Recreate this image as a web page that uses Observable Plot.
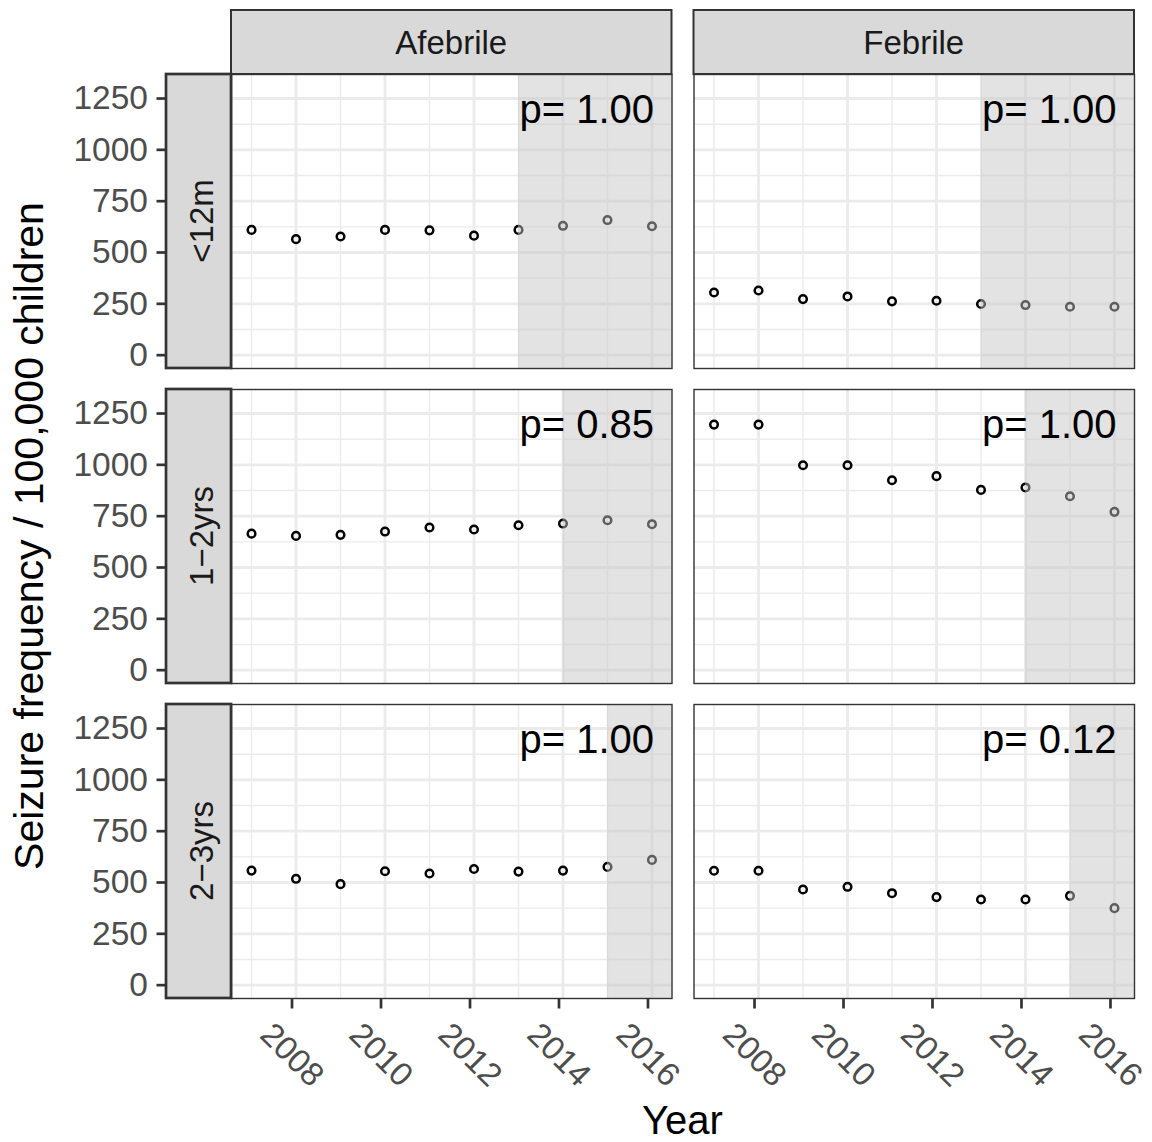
<!DOCTYPE html>
<html>
<head>
<meta charset="utf-8">
<script src="https://cdn.jsdelivr.net/npm/d3@7"></script>
<script src="https://cdn.jsdelivr.net/npm/@observablehq/plot@0.6"></script>
<style>
  html, body { margin: 0; padding: 0; background: #ffffff; }
  #chart { width: 1152px; height: 1142px; }
</style>
</head>
<body>
<div id="chart"></div>
<script>
// ---- Data ----
const years = [2007, 2008, 2009, 2010, 2011, 2012, 2013, 2014, 2015, 2016];
const conditions = ["Afebrile", "Febrile"];
const ageGroups = ["<12m", "1\u22122yrs", "2\u22123yrs"];

const afebrileLt12m = [610, 565, 578, 610, 608, 582, 610, 630, 658, 628];
const febrileLt12m  = [305, 315, 273, 286, 262, 265, 249, 244, 236, 236];
const afebrile1to2  = [665, 654, 659, 675, 695, 685, 706, 714, 730, 711];
const febrile1to2   = [1196, 1196, 998, 998, 925, 945, 878, 890, 847, 771];
const afebrile2to3  = [558, 518, 492, 555, 544, 566, 553, 558, 576, 610];
const febrile2to3   = [557, 557, 466, 479, 448, 429, 417, 417, 435, 375];

const shadeStartYears = [2013, 2014, 2015];       // by age group
const pAfebrile = ["1.00", "0.85", "1.00"];        // by age group
const pFebrile  = ["1.00", "1.00", "0.12"];        // by age group

const xDomain = [2006.55, 2016.45];
const yDomain = [-65, 1367];
const xMajor = [2008, 2010, 2012, 2014, 2016];
const xMinor = [2007, 2009, 2011, 2013, 2015];
const yMajor = [0, 250, 500, 750, 1000, 1250];
const yMinor = [125, 375, 625, 875, 1125];

const xTitle = "Year";
const yTitle = "Seizure frequency / 100,000 children";

// ---- Tables built from the arrays ----
const series = [
  [ageGroups[0], conditions[0], afebrileLt12m],
  [ageGroups[0], conditions[1], febrileLt12m],
  [ageGroups[1], conditions[0], afebrile1to2],
  [ageGroups[1], conditions[1], febrile1to2],
  [ageGroups[2], conditions[0], afebrile2to3],
  [ageGroups[2], conditions[1], febrile2to3]
];
const points = series.flatMap(([age, cond, vals]) =>
  vals.map((v, i) => ({age, cond, year: years[i], value: v})));
const shades = ageGroups.flatMap((age, i) =>
  conditions.map(cond => ({age, cond, start: shadeStartYears[i], end: xDomain[1]})));
const pTable = ageGroups.flatMap((age, i) => [
  {age, cond: conditions[0], p: pAfebrile[i]},
  {age, cond: conditions[1], p: pFebrile[i]}
]);

const FONT = "'Liberation Sans', Arial, Helvetica, sans-serif";
const W = 1152, H = 1142;
const mTop = 74, mBottom = 144, mLeft = 231, mRight = 18;
const colGap = 22, rowGap = 21;
const innerW = W - mLeft - mRight, innerH = H - mTop - mBottom;
const colStep = (innerW + colGap) / conditions.length;
const rowStep = (innerH + rowGap) / ageGroups.length;
const stripW = 65, stripH = 64;

const chart = Plot.plot({
  width: W,
  height: H,
  marginTop: mTop,
  marginBottom: mBottom,
  marginLeft: mLeft,
  marginRight: mRight,
  style: {fontFamily: FONT, background: "#ffffff", overflow: "visible"},
  x: {domain: xDomain},
  y: {domain: yDomain},
  fx: {domain: conditions, paddingInner: colGap / colStep, paddingOuter: 0, round: false, axis: null},
  fy: {domain: ageGroups, paddingInner: rowGap / rowStep, paddingOuter: 0, round: false, axis: null},
  marks: [
    Plot.ruleX(xMinor, {stroke: "#ebebeb", strokeWidth: 1.4}),
    Plot.ruleY(yMinor, {stroke: "#ebebeb", strokeWidth: 1.4}),
    Plot.ruleX(xMajor, {stroke: "#ebebeb", strokeWidth: 2.8}),
    Plot.ruleY(yMajor, {stroke: "#ebebeb", strokeWidth: 2.8}),
    Plot.dot(points, {x: "year", y: "value", fx: "cond", fy: "age", r: 3.8, stroke: "#000000", strokeWidth: 2.5, fill: "none"}),
    Plot.rect(shades, {x1: "start", x2: "end", fx: "cond", fy: "age", fill: "rgb(197,197,197)", fillOpacity: 0.48}),
    Plot.text(pTable, {
      text: d => "p= " + d.p, fx: "cond", fy: "age",
      frameAnchor: "top-right", textAnchor: "end", lineAnchor: "top",
      dx: -18, dy: 20, fontSize: 40, fill: "#000000"
    }),
    Plot.frame({stroke: "#333333", strokeWidth: 1.4}),
    Plot.axisY({
      ticks: yMajor, tickFormat: d => String(d), tickSize: 9.5, tickPadding: 9, dx: -stripW,
      fontSize: 33.5, fill: "#4d4d4d", stroke: "#333333", strokeWidth: 2.7, label: null
    }),
    Plot.axisX({
      ticks: xMajor, tickFormat: d => String(d), tickSize: 10.5, tickPadding: 46, tickRotate: 45,
      textAnchor: "middle", lineAnchor: "middle", dx: -4,
      fontSize: 33, fill: "#4d4d4d", stroke: "#333333", strokeWidth: 2.7, label: null
    })
  ]
});

document.getElementById("chart").appendChild(chart);

// ---- Facet strips and axis titles, placed with Plot's own facet scales ----
const fxS = chart.scale("fx");
const fyS = chart.scale("fy");
const svg = d3.select(chart);
const topY = fyS.apply(ageGroups[0]);
const leftX = fxS.apply(conditions[0]);

const gStrips = svg.append("g").attr("font-family", FONT);
conditions.forEach(c => {
  const x = fxS.apply(c), w = fxS.bandwidth;
  gStrips.append("rect")
    .attr("x", x).attr("y", topY - stripH).attr("width", w).attr("height", stripH)
    .attr("fill", "#d9d9d9").attr("stroke", "#333333").attr("stroke-width", 2);
  gStrips.append("text")
    .attr("x", x + w / 2).attr("y", topY - stripH / 2 + 11.6)
    .attr("text-anchor", "middle").attr("font-size", 33).attr("fill", "#1a1a1a")
    .text(c);
});
ageGroups.forEach(a => {
  const y = fyS.apply(a), h = fyS.bandwidth;
  gStrips.append("rect")
    .attr("x", leftX - stripW).attr("y", y).attr("width", stripW).attr("height", h)
    .attr("fill", "#d9d9d9").attr("stroke", "#333333").attr("stroke-width", 2.7);
  gStrips.append("text")
    .attr("transform", `translate(${leftX - stripW / 2 + 14.8},${y + h / 2}) rotate(-90)`)
    .attr("text-anchor", "middle").attr("font-size", 33).attr("fill", "#1a1a1a")
    .text(a);
});

const xr = fxS.range, yr = fyS.range;
svg.append("text")
  .attr("x", (xr[0] + xr[1]) / 2).attr("y", 1134)
  .attr("text-anchor", "middle").attr("font-family", FONT).attr("font-size", 40).attr("fill", "#000000")
  .text(xTitle);
svg.append("text")
  .attr("transform", `translate(43,${(yr[0] + yr[1]) / 2}) rotate(-90)`)
  .attr("text-anchor", "middle").attr("font-family", FONT).attr("font-size", 41).attr("fill", "#000000")
  .text(yTitle);
</script>
</body>
</html>
